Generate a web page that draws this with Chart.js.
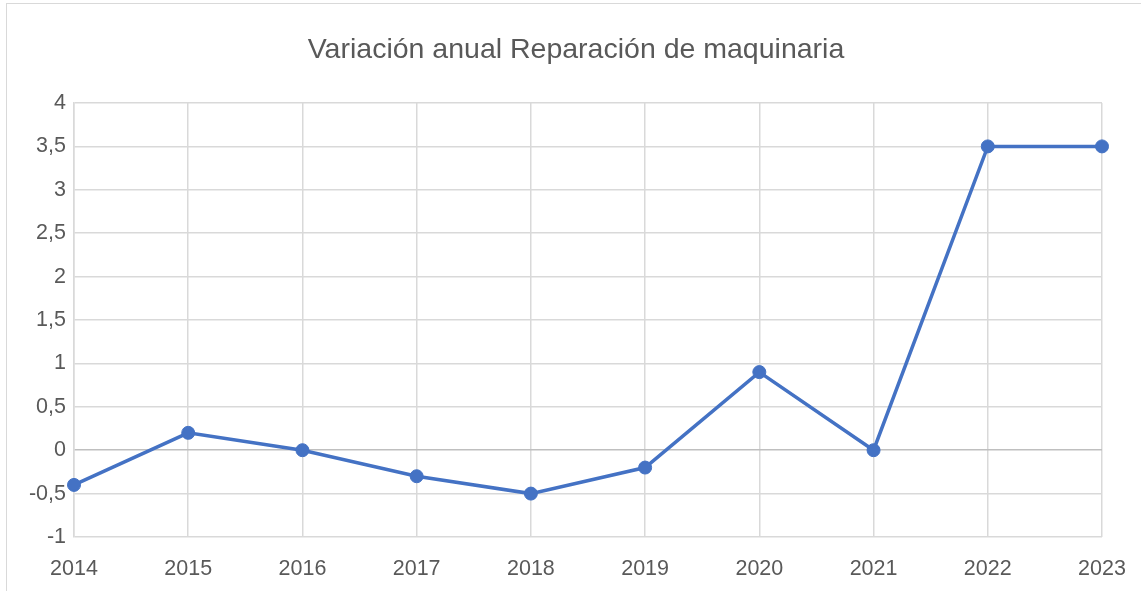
<!DOCTYPE html>
<html><head><meta charset="utf-8">
<script src="https://cdn.jsdelivr.net/npm/chart.js@4"></script>
<style>
html,body{margin:0;padding:0;background:#fff;}
#wrap{position:relative;width:1141px;height:591px;overflow:hidden;}
#frame{position:absolute;left:6px;top:3px;width:1200px;height:700px;border:1px solid #d9d9d9;box-sizing:border-box;}
canvas{position:absolute;left:0;top:0;}
</style></head>
<body><div id="wrap"><div id="frame"></div><canvas id="c" width="1141" height="591"></canvas></div>
<script>
const titleText = 'Variación anual Reparación de maquinaria';
const years = ['2014','2015','2016','2017','2018','2019','2020','2021','2022','2023'];
const variation = [-0.4, 0.2, 0, -0.3, -0.5, -0.2, 0.9, 0, 3.5, 3.5];
const yMin = -1, yMax = 4, yStep = 0.5;

const FONT = "'Liberation Sans', Arial, sans-serif";
const TXT = '#595959';
const GRID = '#d9d9d9';

const titlePlugin = {
  id: 'customTitle',
  afterDraw(chart) {
    const ctx = chart.ctx;
    ctx.save();
    ctx.font = "28.5px " + FONT;
    ctx.fillStyle = TXT;
    ctx.textAlign = 'center';
    ctx.textBaseline = 'middle';
    ctx.fillText(titleText, 576, 50);
    ctx.restore();
  }
};

new Chart(document.getElementById('c'), {
  type: 'line',
  data: { labels: years, datasets: [{
    data: variation,
    borderColor: '#4472C4', backgroundColor: '#4472C4',
    borderWidth: 3.5, pointRadius: 6.5, pointHoverRadius: 6.5, pointBorderWidth: 1,
    pointBackgroundColor: '#4472C4', pointBorderColor: '#4472C4',
    tension: 0, clip: false
  }]},
  options: {
    responsive: false, animation: false, devicePixelRatio: 1,
    layout: { padding: { left: 0, right: 39, top: 103, bottom: 0 } },
    plugins: { legend: { display: false }, tooltip: { enabled: false }, title: { display: false } },
    scales: {
      x: { offset: false,
        grid: { color: GRID, lineWidth: 1.5, drawTicks: false },
        border: { display: false },
        ticks: { color: TXT, font: { family: FONT, size: 21.5 }, padding: 19, maxRotation: 0, autoSkip: false },
        afterFit: s => { s.height = 54; s.paddingLeft = 0; s.paddingRight = 0; }
      },
      y: { min: yMin, max: yMax,
        grid: { color: ctx => ctx.tick && ctx.tick.value === 0 ? '#bfbfbf' : GRID, lineWidth: 1.5, drawTicks: false },
        border: { display: true, color: GRID, width: 1.5 },
        ticks: { stepSize: yStep, color: TXT, font: { family: FONT, size: 21.5 }, padding: 8,
          callback: v => String(v).replace('.', ',') },
        afterFit: s => { s.width = 74; s.paddingTop = 0; s.paddingBottom = 0; }
      }
    }
  },
  plugins: [titlePlugin]
});
</script></body></html>
